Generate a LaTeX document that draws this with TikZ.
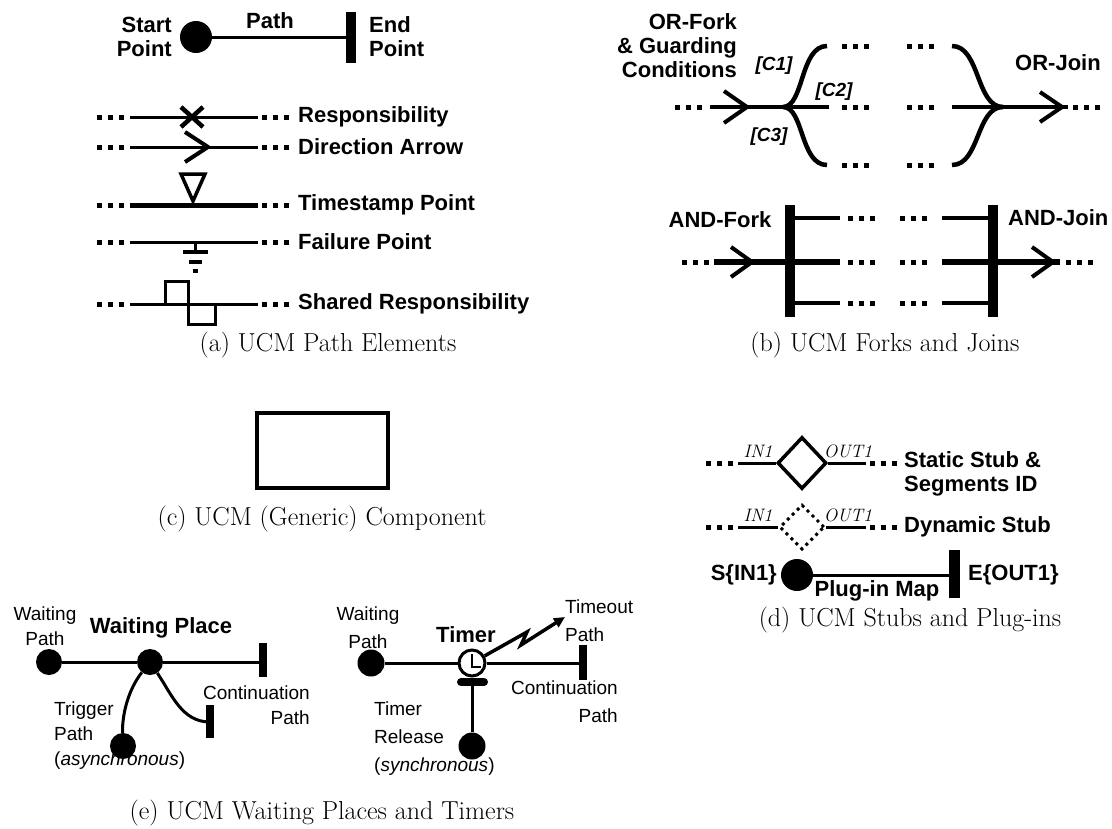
\documentclass[tikz,border=0pt]{standalone}
\usepackage{fontspec}
\newfontfamily\labfont{Liberation Sans}
\usetikzlibrary{arrows.meta,positioning,shapes.geometric}

\begin{document}
\begin{tikzpicture}[x=1pt,y=-1pt,
  lbl/.style={font=\labfont\bfseries\fontsize{22}{24}\selectfont,inner sep=0pt},
  thin lbl/.style={font=\labfont\fontsize{19}{25}\selectfont,inner sep=0pt},
  loose lbl/.style={font=\labfont\fontsize{19}{28}\selectfont,inner sep=0pt},
  cond/.style={font=\labfont\bfseries\itshape\fontsize{19}{20}\selectfont,inner sep=0pt},
  seg/.style={font=\itshape\fontsize{18}{19}\selectfont,inner sep=0pt},
  capt/.style={font=\fontsize{26}{30}\selectfont,inner sep=0pt},
  trail/.style={line width=5pt,dash pattern=on 5pt off 6pt},
  ucm/.style={line width=3pt},
  fat/.style={line width=4.5pt},
  endbar/.style={line width=10pt},
  chev/.style={line width=4pt,line join=miter},
  blob/.style={circle,fill,inner sep=0pt,minimum size=#1},
  blob/.default=32pt]
  \useasboundingbox[fill=white] (0,0) rectangle (1112,828);

  % (a) path elements
  \node[blob] (start) at (196,37) {};
  \coordinate (endp) at (351,37);
  \draw[ucm] (start) -- (endp);
  \draw[endbar] (351,12) -- (351,63);
  \node[lbl,align=right,anchor=east] at (172,37) {Start\\Point};
  \node[lbl] at (270,21) {Path};
  \node[lbl,align=left,anchor=west] at (369,37) {End\\Point};
  \foreach \y/\txt in {117/Responsibility,147/Direction Arrow,205/Timestamp Point,242/Failure Point,304/Shared Responsibility}{
    \draw[trail] (97,\y) -- (124,\y);
    \draw[trail] (262,\y) -- (289,\y);
    \node[lbl,anchor=west] at (298,\y) {\txt};
  }
  \draw[ucm] (130,117) -- (258,117);
  \draw[fat] (181,107) -- (203,127) (181,127) -- (203,107);
  \draw[ucm] (130,147) -- (258,147);
  \draw[chev] (185,132) -- (208,147) -- (185,162);
  \draw[line width=5pt] (130,205) -- (258,205);
  \draw[line width=3.5pt] (181,174) -- (205,174) -- (193,201) -- cycle;
  \draw[ucm] (130,242) -- (258,242);
  \draw[ucm] (195,242) -- (195,252);
  \draw[line width=3.5pt] (183,252) -- (208,252) (189,262) -- (202,262) (193,271) -- (198,271);
  \draw[ucm] (130,304) -- (258,304);
  \draw[ucm] (165,304) |- (188,281) -- (188,324) -| (215,304);
  \node[capt] at (328,345) {(a) UCM Path Elements};

  % (b) forks and joins
  \node[lbl,align=right,anchor=east] at (737,46) {OR-Fork\\\& Guarding\\Conditions};
  \coordinate (orfork) at (783,107);
  \coordinate (orjoin) at (1003,107);
  \draw[trail] (675,107) -- (702,107);
  \draw[fat] (710,107) -- (orfork) -- (829,107);
  \draw[chev] (724,91) -- (747,107) -- (724,123);
  \draw[fat] (orfork) .. controls (804,107) and (800,46) .. (827,46);
  \draw[fat] (orfork) .. controls (804,107) and (800,165) .. (827,165);
  \foreach \y in {46,107,165}{
    \draw[trail] (842,\y) -- (869,\y);
    \draw[trail] (907,\y) -- (934,\y);
  }
  \draw[fat] (952,46) .. controls (980,46) and (976,107) .. (orjoin);
  \draw[fat] (952,165) .. controls (980,165) and (976,107) .. (orjoin);
  \draw[fat] (952,107) -- (1068,107);
  \draw[chev] (1040,92) -- (1062,107) -- (1040,122);
  \draw[trail] (1073,107) -- (1100,107);
  \node[lbl] at (1058,63) {OR-Join};
  \node[cond] at (774,66) {[C1]};
  \node[cond] at (834,92) {[C2]};
  \node[cond] at (769,137) {[C3]};

  \node[lbl] at (720,220) {AND-Fork};
  \coordinate (andfork) at (790,262);
  \coordinate (andjoin) at (993,262);
  \draw[trail] (682,262) -- (709,262);
  \draw[line width=6pt] (714,262) -- (andfork);
  \draw[chev] (731,247) -- (752,262) -- (731,277);
  \draw[endbar] (790,205) -- (790,317);
  \draw[endbar] (993,205) -- (993,317);
  \foreach \y/\w in {218/4pt,262/6pt,303/4pt}{
    \draw[line width=\w] (790,\y) -- (840,\y);
    \draw[line width=\w] (942,\y) -- (993,\y);
    \draw[trail] (848,\y) -- (875,\y);
    \draw[trail] (900,\y) -- (927,\y);
  }
  \draw[line width=6pt] (andjoin) -- (1060,262);
  \draw[chev] (1032,247) -- (1053,262) -- (1032,277);
  \draw[trail] (1066,262) -- (1093,262);
  \node[lbl,anchor=west] at (1008,218) {AND-Join};
  \node[capt] at (885,345) {(b) UCM Forks and Joins};

  % (c) component
  \node[draw,line width=4pt,minimum width=131pt,minimum height=75pt] (comp) at (322,450) {};
  \node[capt] at (322,519) {(c) UCM (Generic) Component};

  % (d) stubs and plug-ins
  \node[diamond,draw,line width=3.5pt,minimum width=49pt,minimum height=52pt,inner sep=0pt] (static) at (802,463) {};
  \draw[trail] (706,463) -- (733,463);
  \draw[ucm] (738,463) -- (static.west);
  \draw[ucm] (static.east) -- (866,463);
  \draw[trail] (870,463) -- (897,463);
  \node[seg] at (758,451) {IN1};
  \node[seg] at (848,451) {OUT1};
  \node[lbl,align=left,anchor=west] at (904,474) {Static Stub \&\\Segments ID};

  \node[diamond,draw,line width=3pt,dash pattern=on 3pt off 4pt,minimum width=45pt,minimum height=45pt,inner sep=0pt] (dynamic) at (802,527) {};
  \draw[trail] (706,527) -- (733,527);
  \draw[ucm] (738,527) -- (dynamic.west);
  \draw[ucm] (dynamic.east) -- (866,527);
  \draw[trail] (870,527) -- (897,527);
  \node[seg] at (758,515) {IN1};
  \node[seg] at (848,515) {OUT1};
  \node[lbl,anchor=west] at (904,527) {Dynamic Stub};

  \node[blob] (plugin) at (797,575) {};
  \coordinate (plugout) at (954,575);
  \draw[ucm] (plugin) -- (plugout);
  \draw[line width=11pt] (954,550) -- (954,598);
  \node[lbl,anchor=east] at (777,575) {S\{IN1\}};
  \node[lbl,anchor=west] at (968,575) {E\{OUT1\}};
  \node[lbl] at (877,591) {Plug-in Map};
  \node[capt] at (910,620) {(d) UCM Stubs and Plug-ins};

  % (e) waiting places and timers
  \node[blob=26pt] (wpath) at (49,662) {};
  \node[blob=26pt] (wplace) at (150,662) {};
  \coordinate (wend) at (263,662);
  \draw[ucm] (wpath) -- (wplace) -- (wend);
  \draw[line width=8pt] (263,643) -- (263,677);
  \node[blob=26pt] (trig) at (123,746) {};
  \draw[ucm] (wplace) .. controls (128,690) and (122,715) .. (trig);
  \coordinate (cont) at (210,722);
  \draw[ucm] (wplace) .. controls (172,695) and (182,722) .. (cont);
  \draw[line width=8pt] (210,705) -- (210,738);
  \node[thin lbl,align=center] at (45,626) {Waiting\\Path};
  \node[lbl] at (161,628) {Waiting Place};
  \node[thin lbl,align=left,anchor=west] at (54,736) {Trigger\\Path\\(\textit{asynchronous})};
  \node[thin lbl,align=right,anchor=east] at (310,705) {Continuation\\Path};

  \node[blob=27pt] (wpath2) at (371,663) {};
  \node[circle,draw,fill=white,line width=3pt,minimum size=26pt,inner sep=0pt] (timer) at (472,663) {};
  \draw[line width=2pt] (472,654) -- (472,667) -- (481,667);
  \coordinate (tend) at (583,663);
  \draw[ucm] (wpath2) -- (timer) -- (tend);
  \draw[line width=8pt] (583,645) -- (583,680);
  \coordinate (relbar) at (472,682);
  \draw[line width=8pt,line cap=round] (461,682) -- (484,682);
  \node[blob=27pt] (release) at (472,746) {};
  \draw[ucm] (relbar) -- (release);
  \draw[line width=3.5pt,-{Triangle[length=11pt,width=10pt]}] (timer) -- (527,632) -- (521,645) -- (565,617);
  \node[lbl] at (466,635) {Timer};
  \node[loose lbl,align=left,anchor=west] at (565,621) {Timeout\\Path};
  \node[loose lbl,align=center] at (368,628) {Waiting\\Path};
  \node[loose lbl,align=right,anchor=east] at (618,702) {Continuation\\Path};
  \node[loose lbl,align=left,anchor=west] at (374,739) {Timer\\Release\\(\textit{synchronous})};
  \node[capt] at (322,813) {(e) UCM Waiting Places and Timers};
\end{tikzpicture}
\end{document}
